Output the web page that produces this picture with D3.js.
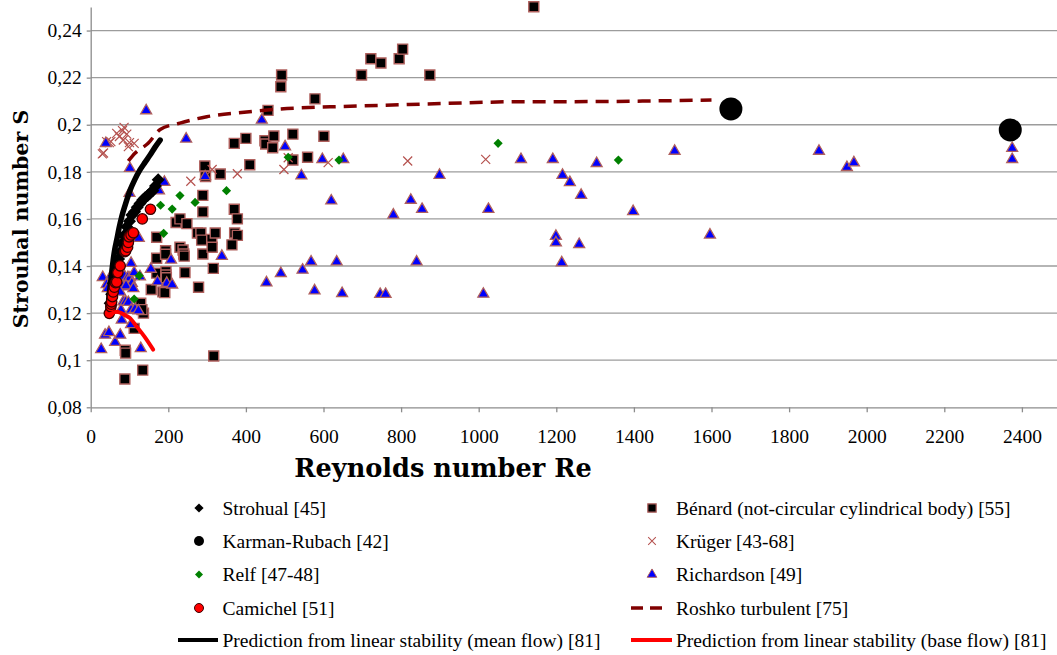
<!DOCTYPE html>
<html><head><meta charset="utf-8">
<script src="https://cdn.jsdelivr.net/npm/d3@7"></script>
<style>body{margin:0;background:#fff}svg{display:block}</style>
</head><body><svg id="c" width="1057" height="655"></svg>
<script>
// ---------- data (Re, S) ----------
const xTicks = [0,200,400,600,800,1000,1200,1400,1600,1800,2000,2200,2400];
const yTicks = [0.08,0.10,0.12,0.14,0.16,0.18,0.20,0.22,0.24];
const yTickLabels = ["0,08","0,1","0,12","0,14","0,16","0,18","0,2","0,22","0,24"];

const strohual = [[50,0.1242],[54,0.128],[58,0.1327],[62,0.136],[67,0.1397],[72,0.143],[76,0.146],[80,0.1496],[86,0.153],[93,0.1567],[100,0.159],[106,0.1617],[113,0.163],[120,0.165],[127,0.1666],[134,0.168],[140,0.169],[147,0.170],[153,0.1709],[160,0.172],[167,0.174],[174,0.1766]];
const karman = [[1650,0.2067],[2370,0.1978]];
const relf = [[112,0.126],[125,0.1359],[188,0.1539],[180,0.1658],[210,0.1642],[230,0.1699],[269,0.167],[350,0.172],[509,0.1862],[640,0.185],[1050,0.1921],[1360,0.185]];
const camichel = [[48,0.1199],[52,0.1227],[53,0.1238],[54,0.1248],[56,0.127],[58,0.129],[61,0.131],[64,0.1329],[67,0.1332],[70,0.1372],[76,0.1401],[88,0.1461],[90,0.1465],[95,0.148],[97,0.150],[99,0.1524],[104,0.1532],[110,0.1541],[133,0.160],[154,0.1641]];
const benard = [[88,0.092],[89,0.1042],[90,0.103],[134,0.0958],[112,0.1135],[129,0.1242],[136,0.120],[132,0.1215],
 [170,0.1522],[170,0.1433],[170,0.137],[156,0.130],[186,0.129],[191,0.1287],[193,0.1465],[193,0.145],[194,0.1376],[194,0.1362],[195,0.135],
 [220,0.1585],[230,0.160],[248,0.158],[230,0.148],[238,0.1468],[240,0.1451],[241,0.1442],[243,0.1372],[278,0.131],
 [275,0.154],[284,0.154],[286,0.151],[289,0.1451],[312,0.1513],[313,0.148],[321,0.154],[316,0.139],[317,0.1018],
 [289,0.170],[289,0.163],[294,0.1825],[296,0.178],[334,0.1791],
 [370,0.1641],[378,0.160],[371,0.154],[378,0.153],[364,0.149],
 [370,0.1921],[400,0.1942],[410,0.183],[449,0.1932],[451,0.1918],[472,0.1952],[469,0.1902],[521,0.196],[521,0.185],[559,0.1862],[601,0.1951],
 [457,0.2061],[490,0.2161],[492,0.2211],[578,0.211],[698,0.2211],[722,0.228],[748,0.2262],[795,0.228],[804,0.2321],[874,0.2211],[1142,0.2501]];
const kruger = [[30,0.1876],[33,0.188],[41,0.1928],[48,0.1924],[52,0.1928],[67,0.1963],[74,0.195],[82,0.1975],[86,0.1989],[84,0.1935],[93,0.196],[97,0.1907],[100,0.1924],[112,0.1921],[258,0.176],[313,0.181],[378,0.1792],[498,0.181],[509,0.186],[612,0.1839],[817,0.1846],[1018,0.1853]];
const richardson = [[27,0.1046],[37,0.1107],[47,0.1118],[63,0.1076],[76,0.1107],[80,0.1171],[104,0.1152],[129,0.105],
 [78,0.1213],[84,0.1248],[90,0.1248],[97,0.1246],[104,0.1213],[114,0.1216],[123,0.121],
 [31,0.1352],[41,0.1322],[44,0.1305],[54,0.1362],[71,0.1348],[87,0.1357],[96,0.1352],[101,0.135],[112,0.1372],[106,0.1327],[127,0.1355],[82,0.1312],[91,0.1316],[110,0.1305],[76,0.129],
 [104,0.1412],[124,0.1518],[155,0.1387],[207,0.1426],[196,0.1327],[210,0.132],[172,0.1333],
 [39,0.1921],[101,0.1815],[100,0.1709],[143,0.206],[176,0.172],[190,0.1756],[246,0.194],[295,0.178],
 [338,0.1442],[441,0.202],[501,0.1907],[543,0.1784],[597,0.1853],[651,0.1853],[620,0.1677],[780,0.1617],[825,0.168],[854,0.1641],[899,0.1786],[1025,0.1641],[1109,0.1853],
 [453,0.1329],[490,0.1369],[546,0.1383],[568,0.1418],[634,0.1418],[840,0.1418],[577,0.1295],[648,0.1284],[746,0.128],[760,0.128],[1012,0.1281],
 [1191,0.1853],[1216,0.1786],[1235,0.1755],[1264,0.1701],[1199,0.1527],[1199,0.1499],[1259,0.1492],[1214,0.1414],[1304,0.1836],[1398,0.1632],[1505,0.1888],[1596,0.1532],[1877,0.1888],[1949,0.1819],[1967,0.1839],[2375,0.190],[2375,0.1853]];
const roshko = [[97,0.1846],[114,0.1879],[148,0.1921],[179,0.198],[230,0.2007],[299,0.2034],[402,0.2054],[488,0.2067],[617,0.2076],[746,0.2082],[918,0.2091],[1124,0.2098],[1218,0.2098],[1600,0.2105]];
const meanFlow = [[44,0.12],[46,0.125],[50,0.131],[54,0.137],[58,0.1426],[62,0.147],[67,0.151],[73,0.156],[80,0.161],[90,0.1665],[101,0.172],[113,0.1765],[127,0.1808],[140,0.184],[153,0.1871],[166,0.1905],[179,0.1935]];
const baseFlow = [[45,0.1191],[50,0.1195],[67,0.1206],[88,0.1192],[100,0.118],[119,0.1142],[140,0.1097],[161,0.1045]];

const legendLeft = ["Strohual [45]","Karman-Rubach [42]","Relf [47-48]","Camichel [51]","Prediction from linear stability (mean flow) [81]"];
const legendRight = ["Bénard (not-circular cylindrical body) [55]","Krüger [43-68]","Richardson [49]","Roshko turbulent [75]","Prediction from linear stability (base flow) [81]"];

// ---------- scales ----------
const svg = d3.select("#c");
const x = d3.scaleLinear().domain([0,2500]).range([90.7,1060.7]);
const y = d3.scaleLinear().domain([0.08,0.25]).range([407.3,7]);
const serif = "Liberation Serif, serif";
const serifB = "DejaVu Serif, serif";

// gridlines
svg.append("g").selectAll("line").data(yTicks.filter(d=>d>0.08)).join("line")
  .attr("x1",x(0)).attr("x2",1057).attr("y1",d=>y(d)).attr("y2",d=>y(d))
  .attr("stroke","#9c9c9c").attr("stroke-width",1.3);

// axes
const xAxis = d3.axisBottom(x).tickValues(xTicks).tickFormat(d3.format("d")).tickSize(5).tickSizeOuter(0).tickPadding(17);
const gx = svg.append("g").attr("transform",`translate(0,${y(0.08)})`).call(xAxis);
gx.attr("font-family",serif).attr("font-size",19.5);
gx.select(".domain").attr("stroke","#8c8c8c").attr("stroke-width",1.3);
gx.selectAll(".tick line").attr("stroke","#8c8c8c").attr("stroke-width",1.3);
gx.selectAll("text").attr("fill","#000");

const yAxis = d3.axisLeft(y).tickValues(yTicks).tickFormat((d,i)=>yTickLabels[i]).tickSize(4).tickSizeOuter(0).tickPadding(5);
const gy = svg.append("g").attr("transform",`translate(${x(0)},0)`).call(yAxis);
gy.attr("font-family",serif).attr("font-size",19.5);
gy.select(".domain").attr("stroke","#8c8c8c").attr("stroke-width",1.3);
gy.selectAll(".tick line").attr("stroke","#8c8c8c").attr("stroke-width",1.3);
gy.selectAll("text").attr("fill","#000");

// titles
svg.append("text").attr("x",443).attr("y",477).attr("text-anchor","middle")
  .attr("font-family",serifB).attr("font-weight","bold").attr("font-size",25.6).text("Reynolds number Re");
svg.append("text").attr("transform","translate(28,219) rotate(-90)").attr("text-anchor","middle")
  .attr("font-family",serifB).attr("font-weight","bold").attr("font-size",20.5).text("Strouhal number  S");

// ---------- marks ----------
const plot = svg.append("g");
const sym = (type,size)=>d3.symbol().type(type).size(size)();
const diamond = s => `M0,${-s}L${s},0L0,${s}L${-s},0Z`;
const line = d3.line().x(d=>x(d[0])).y(d=>y(d[1])).curve(d3.curveMonotoneX);
const crossPath = "M-4.5,-4.5L4.5,4.5M-4.5,4.5L4.5,-4.5";

plot.append("g").selectAll("path").data(benard).join("path")
  .attr("d",sym(d3.symbolSquare,100)).attr("transform",d=>`translate(${x(d[0])},${y(d[1])})`)
  .attr("fill","#000").attr("stroke","#b0605d").attr("stroke-width",1.4);
plot.append("g").selectAll("path").data(kruger).join("path")
  .attr("d",crossPath).attr("transform",d=>`translate(${x(d[0])},${y(d[1])})`)
  .attr("fill","none").attr("stroke","#b5524f").attr("stroke-width",1.2);
plot.append("g").selectAll("path").data(richardson).join("path")
  .attr("d",sym(d3.symbolTriangle,52)).attr("transform",d=>`translate(${x(d[0])},${y(d[1])})`)
  .attr("fill","#0000ff").attr("stroke","#b0605d").attr("stroke-width",1.3);
plot.append("path").datum(meanFlow).attr("d",line).attr("fill","none")
  .attr("stroke","#000").attr("stroke-width",5.5).attr("stroke-linecap","round");
plot.append("g").selectAll("path").data(strohual).join("path")
  .attr("d",diamond(6.5)).attr("transform",d=>`translate(${x(d[0])},${y(d[1])})`)
  .attr("fill","#000");
plot.append("g").selectAll("path").data(relf).join("path")
  .attr("d",diamond(4.6)).attr("transform",d=>`translate(${x(d[0])},${y(d[1])})`)
  .attr("fill","#008000");
plot.append("g").selectAll("circle").data(camichel).join("circle")
  .attr("cx",d=>x(d[0])).attr("cy",d=>y(d[1])).attr("r",5.2)
  .attr("fill","#ff0000").attr("stroke","#3a0000").attr("stroke-width",1.3);
plot.append("g").selectAll("circle").data(karman).join("circle")
  .attr("cx",d=>x(d[0])).attr("cy",d=>y(d[1])).attr("r",11.5).attr("fill","#000");
plot.append("path").datum(roshko).attr("d",line).attr("fill","none")
  .attr("stroke","#800000").attr("stroke-width",3.5).attr("stroke-dasharray","13,8");
plot.append("path").datum(baseFlow).attr("d",line).attr("fill","none")
  .attr("stroke","#ff0000").attr("stroke-width",4).attr("stroke-linecap","round");

// ---------- legend ----------
const rowY = [508,541,574.5,608,640];
const lg = svg.append("g").attr("font-family",serif).attr("font-size",19.5);
lg.selectAll("text.l").data(legendLeft).join("text").attr("class","l")
  .attr("x",222.5).attr("y",(d,i)=>rowY[i]+6.5).text(d=>d);
lg.selectAll("text.r").data(legendRight).join("text").attr("class","r")
  .attr("x",676).attr("y",(d,i)=>rowY[i]+6.5).text(d=>d);
lg.append("path").attr("d",diamond(4.6)).attr("transform",`translate(199,${rowY[0]})`).attr("fill","#000");
lg.append("circle").attr("cx",199).attr("cy",rowY[1]).attr("r",5).attr("fill","#000");
lg.append("path").attr("d",diamond(4)).attr("transform",`translate(199,${rowY[2]})`).attr("fill","#008000");
lg.append("circle").attr("cx",199).attr("cy",rowY[3]).attr("r",4.5).attr("fill","#ff0000").attr("stroke","#3a0000").attr("stroke-width",1);
lg.append("line").attr("x1",178).attr("x2",218).attr("y1",rowY[4]).attr("y2",rowY[4]).attr("stroke","#000").attr("stroke-width",4);
lg.append("path").attr("d",sym(d3.symbolSquare,70)).attr("transform",`translate(652,${rowY[0]})`).attr("fill","#000").attr("stroke","#b0605d").attr("stroke-width",1.2);
lg.append("path").attr("d",crossPath).attr("transform",`translate(652,${rowY[1]}) scale(0.85)`).attr("fill","none").attr("stroke","#b5524f").attr("stroke-width",1.2);
lg.append("path").attr("d",sym(d3.symbolTriangle,40)).attr("transform",`translate(652,${rowY[2]})`).attr("fill","#0000ff").attr("stroke","#b0605d").attr("stroke-width",1);
lg.append("line").attr("x1",631).attr("x2",666).attr("y1",rowY[3]).attr("y2",rowY[3]).attr("stroke","#800000").attr("stroke-width",3.5).attr("stroke-dasharray","12,7");
lg.append("line").attr("x1",631).attr("x2",672).attr("y1",rowY[4]).attr("y2",rowY[4]).attr("stroke","#ff0000").attr("stroke-width",4);
</script></body></html>
